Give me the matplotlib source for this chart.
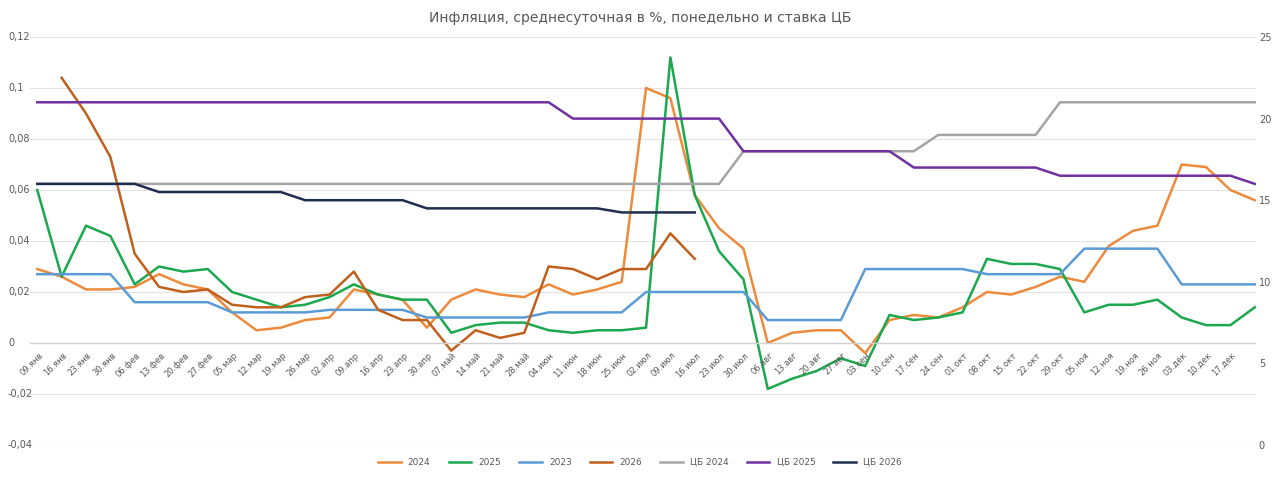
import numpy as np
import matplotlib
matplotlib.use("Agg")
import matplotlib.pyplot as plt
from matplotlib.transforms import blended_transform_factory

plt.rcParams['font.family'] = ['DejaVu Sans']

labels = ["09.янв", "16.янв", "23.янв", "30.янв", "06.фев", "13.фев", "20.фев", "27.фев",
          "05.мар", "12.мар", "19.мар", "26.мар", "02.апр", "09.апр", "16.апр", "23.апр",
          "30.апр", "07.май", "14.май", "21.май", "28.май", "04.июн", "11.июн", "18.июн",
          "25.июн", "02.июл", "09.июл", "16.июл", "23.июл", "30.июл", "06.авг", "13.авг",
          "20.авг", "27.авг", "03.сен", "10.сен", "17.сен", "24.сен", "01.окт", "08.окт",
          "15.окт", "22.окт", "29.окт", "05.ноя", "12.ноя", "19.ноя", "26.ноя", "03.дек",
          "10.дек", "17.дек", ""]

infl_2024 = [.029, .026, .021, .021, .022, .027, .023, .021, .012, .005, .006, .009, .010,
             .021, .019, .017, .006, .017, .021, .019, .018, .023, .019, .021, .024, .100,
             .096, .058, .045, .037, .000, .004, .005, .005, -.004, .009, .011, .010, .014,
             .020, .019, .022, .026, .024, .038, .044, .046, .070, .069, .060, .056]
infl_2025 = [.060, .026, .046, .042, .023, .030, .028, .029, .020, .017, .014, .015, .018,
             .023, .019, .017, .017, .004, .007, .008, .008, .005, .004, .005, .005, .006,
             .112, .058, .036, .025, -.018, -.014, -.011, -.006, -.009, .011, .009, .010,
             .012, .033, .031, .031, .029, .012, .015, .015, .017, .010, .007, .007, .014]
infl_2023 = [.027] * 4 + [.016] * 4 + [.012] * 4 + [.013] * 4 + [.010] * 5 + [.012] * 4 \
    + [.020] * 5 + [.009] * 4 + [.029] * 5 + [.027] * 4 + [.037] * 4 + [.023] * 4
infl_2026 = [np.nan, .104, .090, .073, .035, .022, .020, .021, .015, .014, .014, .018, .019,
             .028, .013, .009, .009, -.003, .005, .002, .004, .030, .029, .025, .029, .029,
             .043, .033]
cb_2024 = [16] * 29 + [18] * 8 + [19] * 5 + [21] * 9
cb_2025 = [21] * 22 + [20] * 7 + [18] * 7 + [17] * 6 + [16.5] * 8 + [16]
cb_2026 = [16] * 5 + [15.5] * 6 + [15] * 5 + [14.5] * 8 + [14.25] * 4
left_ticks = [-0.04, -0.02, 0, 0.02, 0.04, 0.06, 0.08, 0.1, 0.12]
left_tick_labels = ["-0,04", "-0,02", "0", "0,02", "0,04", "0,06", "0,08", "0,1", "0,12"]

fig = plt.figure(figsize=(12.8, 4.79), dpi=100)
ax = fig.add_axes([30 / 1280, 34 / 479, 1226 / 1280, 408 / 479])
ax2 = ax.twinx()

x = np.arange(len(labels))
lw = 1.8
h = []
h += ax.plot(x, infl_2024, color="#ED8B3C", lw=lw, label="2024")
h += ax.plot(x, infl_2025, color="#1BA84E", lw=lw, label="2025")
h += ax.plot(x, infl_2023, color="#5B9BD5", lw=lw, label="2023")
h += ax.plot(np.arange(len(infl_2026)), infl_2026, color="#C0601E", lw=lw, label="2026")
h += ax2.plot(x, cb_2024, color="#A5A5A5", lw=lw, label="ЦБ 2024")
h += ax2.plot(x, cb_2025, color="#7030A0", lw=lw, label="ЦБ 2025")
h += ax2.plot(np.arange(len(cb_2026)), cb_2026, color="#1F2D4E", lw=lw, label="ЦБ 2026")

ax.set_ylim(-0.04, 0.12)
ax2.set_ylim(0, 25)
ax.set_xlim(-0.3, 50.05)
ax.set_yticks(left_ticks)
ax.set_yticklabels([])
tr = blended_transform_factory(fig.transFigure, ax.transData)
for v, s in zip(left_ticks, left_tick_labels):
    ax.text(8 / 1280, v, s, transform=tr, ha="left", va="center", fontsize=7, color="#595959")
ax2.set_yticks([0, 5, 10, 15, 20, 25])
ax.grid(axis="y", color="#E3E3E3", lw=0.8)
ax.axhline(0, color="#D0D0D0", lw=1)
ax.set_axisbelow(True)
ax.set_xticks([])
for i, lab in enumerate(labels):
    ax.text(i + 0.3, -0.003, lab, rotation=45, ha="right", va="top", fontsize=6, color="#595959")

for a in (ax, ax2):
    for s in a.spines.values():
        s.set_visible(False)
    a.tick_params(length=0, labelsize=7, colors="#595959")
ax2.tick_params(axis="y", pad=2)

fig.text(0.5, 0.962, "Инфляция, среднесуточная в %, понедельно и ставка ЦБ",
         ha="center", va="center", fontsize=10, color="#595959")
fig.legend(handles=h, loc="center", bbox_to_anchor=(0.5, 0.035), ncol=7, frameon=False,
           fontsize=6.5, handlelength=2.5, columnspacing=2, labelcolor="#595959")

fig.savefig("out.png", dpi=100)
